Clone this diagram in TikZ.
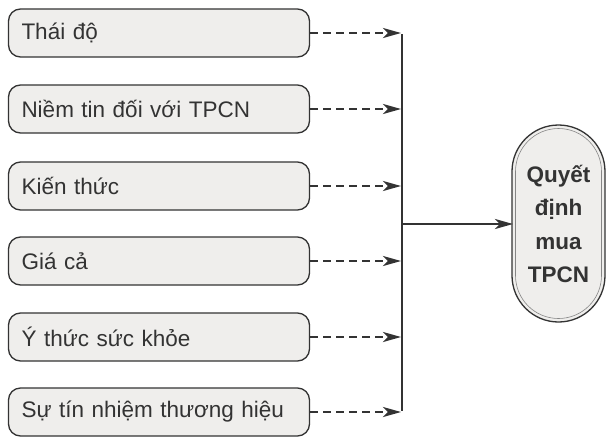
\documentclass[tikz,border=0pt]{standalone}
\usepackage{fontspec}
\setmainfont{Liberation Sans}
\usetikzlibrary{arrows.meta}
\definecolor{boxfill}{HTML}{EFEEEC}
\definecolor{ink}{HTML}{333333}
\tikzset{
  factor/.style={draw=ink, line width=1.3pt, fill=boxfill, rounded corners=12pt,
    minimum width=301pt, minimum height=48pt, text width=275pt, align=left,
    inner xsep=13pt, font=\fontsize{22.5}{26}\selectfont, text=ink},
  dasharrow/.style={draw=ink, line width=2.5pt, dash pattern=on 8pt off 5pt,
    -{Stealth[length=18pt,width=10pt,inset=5pt]}},
  solidarrow/.style={draw=ink, line width=2.5pt, -{Stealth[length=18pt,width=10pt,inset=5pt]}},
  bus/.style={draw=ink, line width=2.5pt}
}
\begin{document}
\begin{tikzpicture}[x=1pt,y=-1pt]
\useasboundingbox[fill=white] (0,0) rectangle (608,437);
\node[factor] (f1) at (159,33) {Thái độ};
\node[factor] (f2) at (159,109) {Niềm tin đối với TPCN};
\node[factor] (f3) at (159,186) {Kiến thức};
\node[factor] (f4) at (159,261) {Giá cả};
\node[factor] (f5) at (159,337) {Ý thức sức khỏe};
\node[factor] (f6) at (159,412) {Sự tín nhiệm thương hiệu};
% decision node with double border
\draw[draw=ink, line width=1.3pt, fill=boxfill] (512,171.5) arc[start angle=180,end angle=360,radius=46.5] -- (605,275.5) arc[start angle=0,end angle=180,radius=46.5] -- cycle;
\draw[draw=ink!60, line width=0.6pt] (515.5,171.5) arc[start angle=180,end angle=360,radius=43] -- (601.5,275.5) arc[start angle=0,end angle=180,radius=43] -- cycle;
\node[text=ink, align=center, font=\bfseries\fontsize{22.5}{33.5}\selectfont] (d) at (558.5,224) {Quyết\\định\\mua\\TPCN};
\coordinate (dl) at (513,224);
% bus coordinates
\coordinate (b1) at (402,33);
\coordinate (b2) at (402,109);
\coordinate (b3) at (402,186);
\coordinate (b4) at (402,261);
\coordinate (b5) at (402,337);
\coordinate (b6) at (402,412);
\coordinate (bm) at (402,224);
\foreach \i in {1,...,6}{
  \draw[dasharrow] (f\i.east) -- ([xshift=-1pt]b\i);
}
\draw[bus] ([yshift=-1pt]b1) -- ([yshift=1pt]b6);
\draw[solidarrow] (bm) -- (dl);
\end{tikzpicture}
\end{document}
